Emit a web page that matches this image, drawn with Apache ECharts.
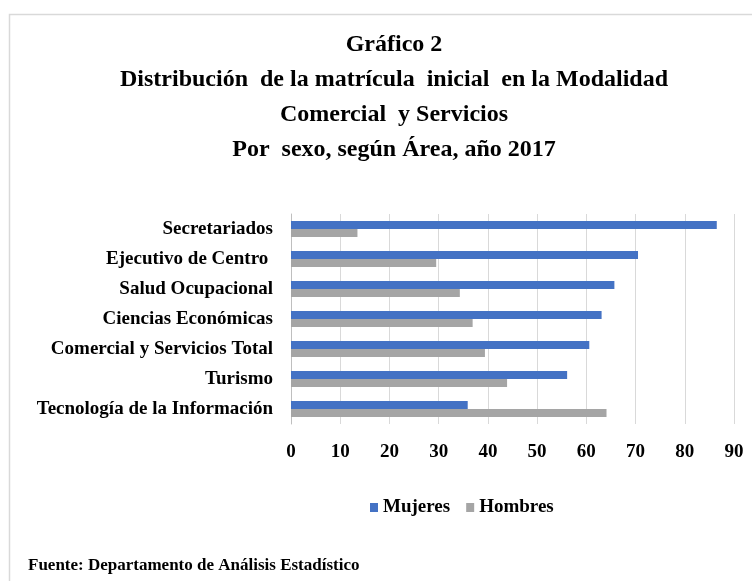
<!DOCTYPE html>
<html>
<head>
<meta charset="utf-8">
<script src="https://cdn.jsdelivr.net/npm/echarts@6/dist/echarts.min.js"></script>
<style>
  html, body { margin: 0; padding: 0; background: #fff; }
  #main { width: 752px; height: 581px; }
</style>
</head>
<body>
<div id="main"></div>
<script>
var areas = ['Secretariados', 'Ejecutivo de Centro ', 'Salud Ocupacional', 'Ciencias Económicas',
    'Comercial y Servicios Total', 'Turismo', 'Tecnología de la Información'];
var mujeres = [86.5, 70.5, 65.7, 63.1, 60.6, 56.1, 35.9];
var hombres = [13.5, 29.5, 34.3, 36.9, 39.4, 43.9, 64.1];
var xTicks = [0, 90, 10];

var serif = 'Liberation Serif';
var myChart = echarts.init(document.getElementById('main'));

var option = {
    animation: false,
    backgroundColor: '#fff',
    title: {
        text: 'Gráfico 2\nDistribución  de la matrícula  inicial  en la Modalidad\nComercial  y Servicios\nPor  sexo, según Área, año 2017',
        left: 389,
        top: 22,
        textAlign: 'center',
        textStyle: {
            fontFamily: serif,
            fontWeight: 'bold',
            fontSize: 24,
            lineHeight: 35,
            color: '#000'
        }
    },
    legend: {
        data: ['Mujeres', 'Hombres'],
        left: 365,
        top: 493,
        icon: 'rect',
        itemWidth: 8,
        itemHeight: 9,
        itemGap: 16,
        textStyle: { fontFamily: serif, fontWeight: 'bold', fontSize: 19, color: '#000' }
    },
    grid: {
        left: 291,
        right: 18,
        top: 214,
        bottom: 157
    },
    xAxis: {
        type: 'value',
        min: xTicks[0],
        max: xTicks[1],
        interval: xTicks[2],
        axisLine: { show: false },
        axisTick: { show: false },
        splitLine: { lineStyle: { color: '#d9d9d9', width: 1 } },
        axisLabel: {
            margin: 19,
            fontFamily: serif,
            fontWeight: 'bold',
            fontSize: 19,
            color: '#000'
        }
    },
    yAxis: {
        type: 'category',
        inverse: true,
        data: areas,
        axisLine: { lineStyle: { color: '#bfbfbf' } },
        axisTick: { show: false },
        axisLabel: {
            margin: 18,
            fontFamily: serif,
            fontWeight: 'bold',
            fontSize: 19,
            color: '#000'
        }
    },
    series: [
        {
            name: 'Mujeres',
            type: 'bar',
            data: mujeres,
            barWidth: 8,
            barGap: '0%',
            itemStyle: { color: '#4472c4' }
        },
        {
            name: 'Hombres',
            type: 'bar',
            data: hombres,
            barWidth: 8,
            barGap: '0%',
            itemStyle: { color: '#a5a5a5' }
        }
    ],
    graphic: [
        {
            type: 'rect',
            shape: { x: 9.5, y: 14.5, width: 800, height: 700 },
            style: { fill: 'none', stroke: '#d9d9d9', lineWidth: 1.5 },
            silent: true
        },
        {
            type: 'text',
            x: 28,
            y: 566,
            style: {
                text: 'Fuente: Departamento de Análisis Estadístico',
                font: 'bold 17px "Liberation Serif"',
                verticalAlign: 'middle',
                fill: '#000'
            }
        }
    ]
};
myChart.setOption(option);
</script>
</body>
</html>
